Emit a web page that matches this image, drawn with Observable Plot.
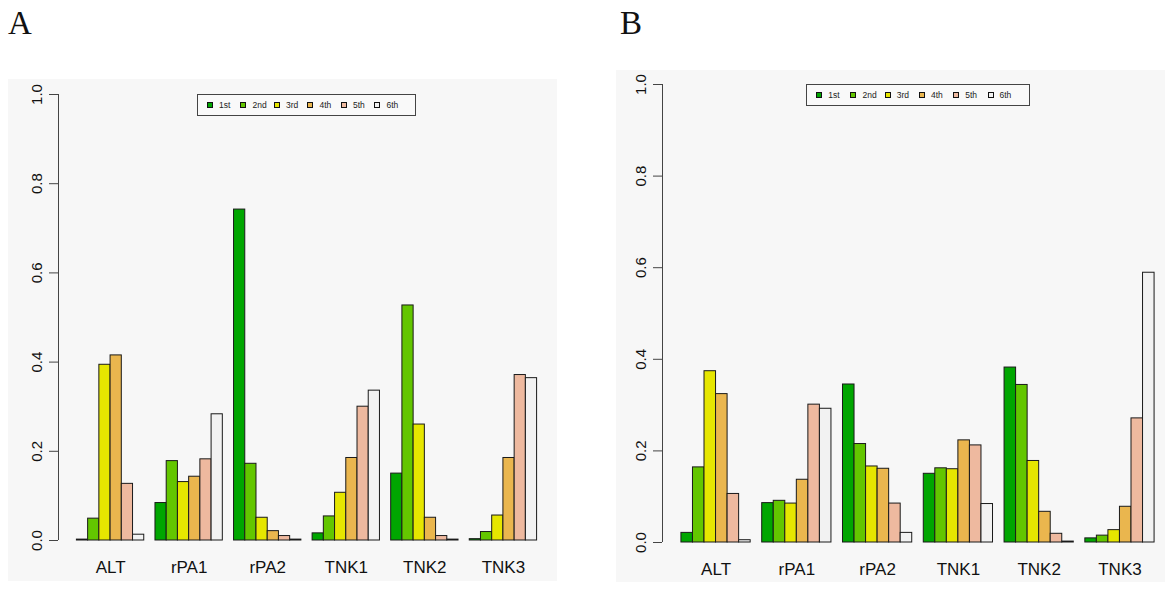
<!DOCTYPE html>
<html>
<head>
<meta charset="utf-8">
<script src="https://cdn.jsdelivr.net/npm/d3@7"></script>
<script src="https://cdn.jsdelivr.net/npm/@observablehq/plot@0.6"></script>
<style>
  html, body { margin: 0; padding: 0; background: #ffffff; }
  body { width: 1170px; height: 591px; position: relative; overflow: hidden; font-family: "Liberation Sans", Arial, sans-serif; }
  .panel-bg { position: absolute; background: #f7f7f7; overflow: hidden; }
  .plot-wrap { position: absolute; line-height: 0; }
  .plot-wrap svg { display: block; max-width: none !important; }
  .tag { position: absolute; font-family: "Liberation Serif", "Times New Roman", serif; font-size: 33px; line-height: 33px; color: #111; }
  .legend { position: absolute; border: 1.3px solid #444; box-sizing: border-box; display: flex; align-items: center; background: #f9f9f9; }
  .legend .item { position: relative; height: 100%; display: flex; align-items: center; font-size: 8.5px; color: #222; }
  .legend .key { width: 6px; height: 6px; border: 1px solid #111; box-sizing: border-box; margin-right: 6px; }
</style>
</head>
<body>
<div id="root"></div>
<script>
// ---------- data ----------
const categories = ["ALT", "rPA1", "rPA2", "TNK1", "TNK2", "TNK3"];
const ranks = ["1st", "2nd", "3rd", "4th", "5th", "6th"];
const colors = ["#00A600", "#63C600", "#E6E600", "#EAB64E", "#EEB99F", "#F2F2F2"];
const yTicks = [0, 0.2, 0.4, 0.6, 0.8, 1.0];

// Panel A: proportions per category (rows) and rank (columns)
const valuesA = [
  [0.002, 0.049, 0.394, 0.415, 0.127, 0.013], // ALT
  [0.084, 0.178, 0.131, 0.143, 0.182, 0.283], // rPA1
  [0.742, 0.172, 0.051, 0.021, 0.010, 0.002], // rPA2
  [0.016, 0.054, 0.107, 0.185, 0.300, 0.336], // TNK1
  [0.150, 0.527, 0.260, 0.051, 0.010, 0.002], // TNK2
  [0.003, 0.019, 0.056, 0.185, 0.371, 0.364]  // TNK3
];

// Panel B
const valuesB = [
  [0.021, 0.164, 0.374, 0.324, 0.106, 0.005], // ALT
  [0.086, 0.091, 0.085, 0.137, 0.301, 0.292], // rPA1
  [0.345, 0.215, 0.166, 0.161, 0.085, 0.021], // rPA2
  [0.150, 0.162, 0.160, 0.223, 0.212, 0.084], // TNK1
  [0.382, 0.344, 0.178, 0.067, 0.019, 0.002], // TNK2
  [0.009, 0.015, 0.027, 0.078, 0.271, 0.589]  // TNK3
];

// ---------- layout ----------
const layoutA = { bg: [8, 79, 549, 502], svg: [8, 79, 547, 502], marginLeft: 50, marginTop: 15, marginBottom: 41,
                  tag: [8, 7], legend: [197, 94, 219, 22] };
const layoutB = { bg: [616, 70, 549, 512], svg: [616, 70, 557, 512], marginLeft: 46, marginTop: 14, marginBottom: 40,
                  tag: [620, 7], legend: [806, 84, 224, 22] };

function makePlot(values, L) {
  const per = ranks.length + 1; // one bar-width gap before each group (R barplot beside)
  const data = categories.flatMap((cat, gi) =>
    ranks.map((rank, ri) => ({ cat, rank, value: values[gi][ri], x1: gi * per + 1 + ri, x2: gi * per + 2 + ri })));
  const lo = 1, hi = categories.length * per;
  const ext = 0.04 * (hi - lo);
  const xDomain = [lo - ext, hi + ext];
  const centers = categories.map((c, gi) => gi * per + 1 + ranks.length / 2);
  const nameAt = new Map(centers.map((c, i) => [c, categories[i]]));

  return Plot.plot({
    width: L.svg[2],
    height: L.svg[3],
    marginLeft: L.marginLeft,
    marginRight: 0,
    marginTop: L.marginTop,
    marginBottom: L.marginBottom,
    style: { background: "transparent", fontFamily: "Liberation Sans, Arial, sans-serif", fontSize: "15px", color: "#111", overflow: "visible", maxWidth: "none" },
    x: { domain: xDomain, axis: null },
    y: { domain: [0, 1], axis: null },
    color: { domain: ranks, range: colors },
    marks: [
      Plot.rectY(data, { x1: "x1", x2: "x2", y: "value", fill: "rank", stroke: "#1a1a1a", strokeWidth: 1 }),
      Plot.ruleX([xDomain[0]], { y1: 0, y2: 1, stroke: "#444", strokeWidth: 1 }),
      Plot.axisY(yTicks, {
        anchor: "left", tickFormat: d => d.toFixed(1), tickSize: 9, tickPadding: 8,
        tickRotate: -90, textAnchor: "middle", lineAnchor: "bottom",
        stroke: "#444", fill: "#111", fontSize: 15, label: null
      }),
      Plot.axisX(centers, {
        anchor: "bottom", tickSize: 0, tickPadding: 20, tickFormat: d => nameAt.get(d),
        fill: "#111", fontSize: 17, label: null
      })
    ]
  });
}

function makeLegend(L) {
  const lg = document.createElement("div");
  lg.className = "legend";
  const [x, y, w, h] = L.legend;
  Object.assign(lg.style, { left: x + "px", top: y + "px", width: w + "px", height: h + "px", paddingLeft: (w * 0.041) + "px" });
  const itemW = (w * 0.918) / ranks.length;
  ranks.forEach((r, i) => {
    const it = document.createElement("div");
    it.className = "item";
    it.style.width = itemW + "px";
    const k = document.createElement("div");
    k.className = "key";
    k.style.background = colors[i];
    const t = document.createElement("span");
    t.textContent = r;
    it.appendChild(k); it.appendChild(t);
    lg.appendChild(it);
  });
  return lg;
}

function addPanel(values, L, tagText) {
  const root = document.getElementById("root");
  const bg = document.createElement("div");
  bg.className = "panel-bg";
  Object.assign(bg.style, { left: L.bg[0] + "px", top: L.bg[1] + "px", width: L.bg[2] + "px", height: L.bg[3] + "px" });
  const wrap = document.createElement("div");
  wrap.className = "plot-wrap";
  Object.assign(wrap.style, { left: (L.svg[0] - L.bg[0]) + "px", top: (L.svg[1] - L.bg[1]) + "px", width: L.svg[2] + "px" });
  wrap.appendChild(makePlot(values, L));
  bg.appendChild(wrap);
  root.appendChild(bg);
  root.appendChild(makeLegend(L));
  const tag = document.createElement("div");
  tag.className = "tag";
  tag.textContent = tagText;
  Object.assign(tag.style, { left: L.tag[0] + "px", top: L.tag[1] + "px" });
  root.appendChild(tag);
}

addPanel(valuesA, layoutA, "A");
addPanel(valuesB, layoutB, "B");
</script>
</body>
</html>
